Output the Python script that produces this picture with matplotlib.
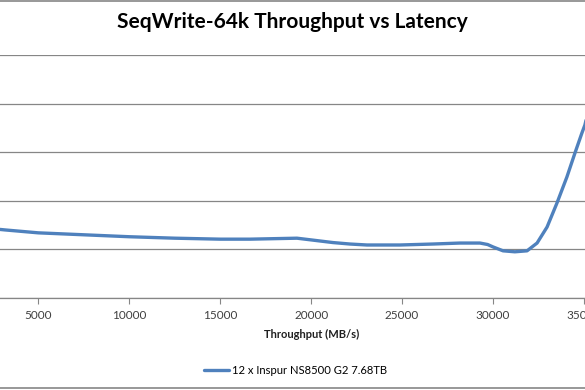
#!/usr/bin/env python3
import matplotlib

matplotlib.use("Agg")
import matplotlib.pyplot as plt
from matplotlib.lines import Line2D

# values (latency in gridline units, no labels shown)
throughput = [2900, 3170, 5000, 7500, 10000, 12500, 15000, 16640, 19220,
              20320, 21200, 22130, 23070, 24880, 26700, 28180, 29280, 29700,
              30000, 30550, 31200, 31870, 32420, 32970, 33510, 34060, 34500,
              34890, 35050, 35150]
latency = [1.41, 1.40, 1.34, 1.30, 1.26, 1.23, 1.21, 1.21, 1.23,
           1.18, 1.14, 1.11, 1.09, 1.09, 1.11, 1.13, 1.13, 1.10,
           1.05, 0.97, 0.95, 0.97, 1.13, 1.46, 1.95, 2.49, 2.98,
           3.40, 3.56, 3.72]
xticks = [5000, 10000, 15000, 20000, 25000, 30000, 35000]
yticks = [0, 1, 2, 3, 4, 5]
series_name = "12 x Inspur NS8500 G2 7.68TB"

plt.rcParams["font.family"] = ["Lato", "DejaVu Sans"]

fig = plt.figure(figsize=(5.85, 3.9), dpi=100)
ax = fig.add_axes([0.0, 0.236, 1.0, 0.623])

ax.plot(throughput, latency, color="#4F81BD", linewidth=2.4,
        solid_capstyle="round", solid_joinstyle="round", label=series_name)

ax.set_xlim(2894, 35055)
ax.set_ylim(0, 5)
ax.set_xticks(xticks)
ax.set_xticklabels([str(t) for t in xticks], fontsize=8.5, color="#404040")
ax.set_yticks(yticks)
ax.set_yticklabels([])
ax.tick_params(axis="y", length=0)
ax.tick_params(axis="x", length=4, color="#868686", pad=5)
ax.grid(axis="y", color="#868686", linewidth=0.9)
ax.set_axisbelow(True)
for side in ("left", "right", "top"):
    ax.spines[side].set_visible(False)
ax.spines["bottom"].set_color("#868686")
ax.spines["bottom"].set_linewidth(0.9)

fig.text(0.5, 0.943, "SeqWrite-64k Throughput vs Latency", ha="center",
         va="center", fontsize=15, fontweight="bold", color="black")
fig.text(312 / 585, 1 - 334 / 390, "Throughput (MB/s)", ha="center",
         va="center", fontsize=8, fontweight="bold", color="#202020")

fig.legend(loc="center", bbox_to_anchor=(296 / 585, 1 - 370 / 390),
           frameon=False, fontsize=8.1, handlelength=2.2, handletextpad=0.3)

# chart frame lines visible at top and bottom of the crop
fig.add_artist(Line2D([0, 1], [0.998, 0.998], color="#868686", linewidth=1.2))
fig.add_artist(Line2D([0, 1], [0.004, 0.004], color="#868686", linewidth=1.2))

fig.savefig("out.png", dpi=100)
